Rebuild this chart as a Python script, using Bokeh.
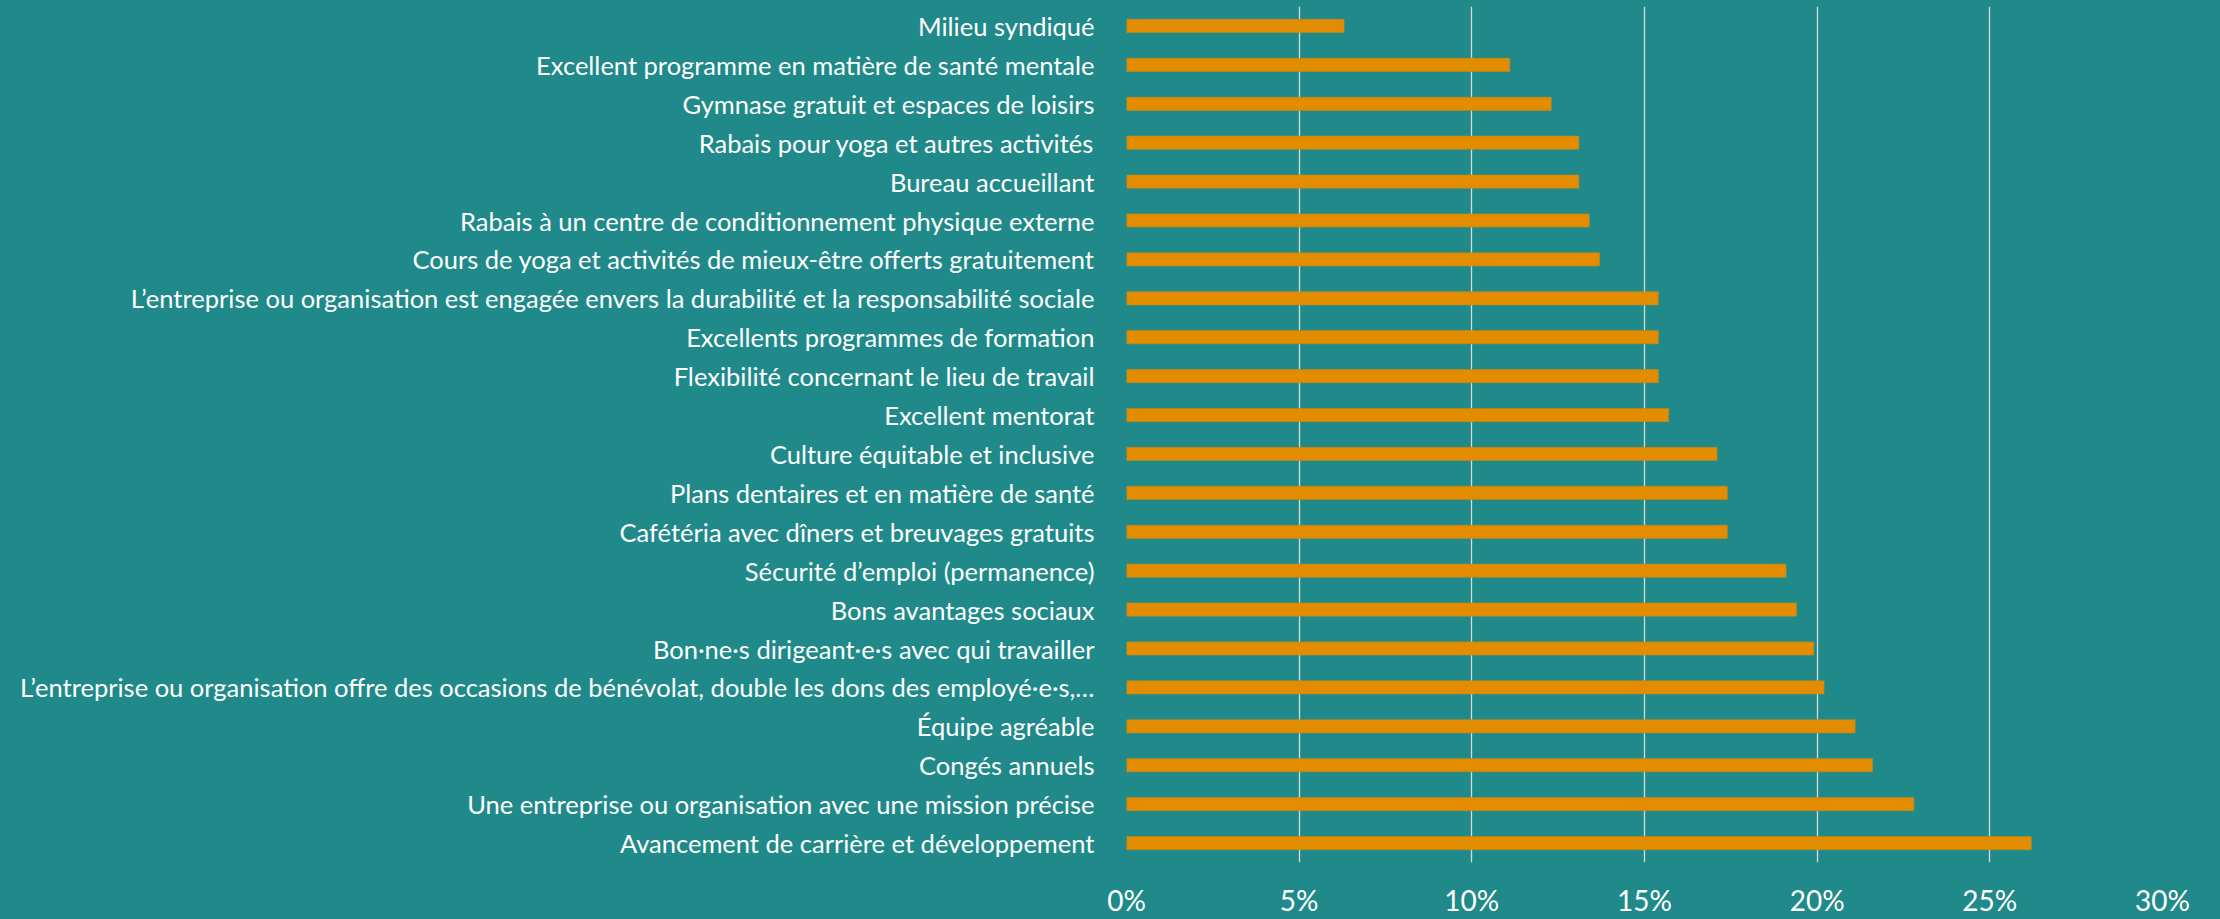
from bokeh.plotting import figure
from bokeh.models import FactorRange, Range1d, FixedTicker, PrintfTickFormatter, GlobalInlineStyleSheet
from bokeh.embed import file_html
from bokeh.resources import INLINE

# Categories, top to bottom as shown
categories = [
    "Milieu syndiqué",
    "Excellent programme en matière de santé mentale",
    "Gymnase gratuit et espaces de loisirs",
    "Rabais pour yoga et autres activités",
    "Bureau accueillant",
    "Rabais à un centre de conditionnement physique externe",
    "Cours de yoga et activités de mieux-être offerts gratuitement",
    "L’entreprise ou organisation est engagée envers la durabilité et la responsabilité sociale",
    "Excellents programmes de formation",
    "Flexibilité concernant le lieu de travail",
    "Excellent mentorat",
    "Culture équitable et inclusive",
    "Plans dentaires et en matière de santé",
    "Cafétéria avec dîners et breuvages gratuits",
    "Sécurité d’emploi (permanence)",
    "Bons avantages sociaux",
    "Bon·ne·s dirigeant·e·s avec qui travailler",
    "L’entreprise ou organisation offre des occasions de bénévolat, double les dons des employé·e·s,…",
    "Équipe agréable",
    "Congés annuels",
    "Une entreprise ou organisation avec une mission précise",
    "Avancement de carrière et développement",
]
values = [6.3, 11.1, 12.3, 13.1, 13.1, 13.4, 13.7, 15.4, 15.4, 15.4, 15.7,
          17.1, 17.4, 17.4, 19.1, 19.4, 19.9, 20.2, 21.1, 21.6, 22.8, 26.2]
x_ticks = [0, 5, 10, 15, 20, 25, 30]

BG = "#1F8A89"
BAR = "#E38C00"

p = figure(
    y_range=FactorRange(factors=categories[::-1]),
    x_range=Range1d(0, 30),
    width=2220, height=919,
    output_backend="svg", toolbar_location=None,
    min_border_left=1126, min_border_right=58,
    min_border_top=6, min_border_bottom=55,
)
p.background_fill_color = BG
p.border_fill_color = BG
p.outline_line_color = None

p.hbar(y=categories, right=values, left=0, height=0.34,
       fill_color=BAR, line_color="#B98A22", line_width=1, line_alpha=0.6)

p.xaxis.ticker = FixedTicker(ticks=x_ticks)
p.xaxis.formatter = PrintfTickFormatter(format="%d%%")
p.xaxis.major_label_text_font = "Lato"
p.xaxis.major_label_text_font_size = "28px"
p.xaxis.major_label_text_color = "white"
p.xaxis.major_label_standoff = 20
p.xaxis.major_tick_out = 0
p.xaxis.major_tick_in = 0
p.xaxis.axis_line_color = None
p.xaxis.major_tick_line_color = None
p.xaxis.minor_tick_line_color = None

p.yaxis.major_label_text_font = "Lato"
p.yaxis.major_label_text_font_size = "25.5px"
p.yaxis.major_label_text_color = "white"
p.yaxis.major_label_standoff = 32
p.yaxis.major_tick_out = 0
p.yaxis.major_tick_in = 0
p.yaxis.axis_line_color = None
p.yaxis.major_tick_line_color = None
p.yaxis.minor_tick_line_color = None

p.xgrid.grid_line_color = "#D9D9D9"
p.xgrid.grid_line_width = 1.3
p.ygrid.grid_line_color = None

p.stylesheets = [GlobalInlineStyleSheet(css="html, body { background-color: #1F8A89; }")]

open("out.html", "w").write(file_html(p, INLINE))
